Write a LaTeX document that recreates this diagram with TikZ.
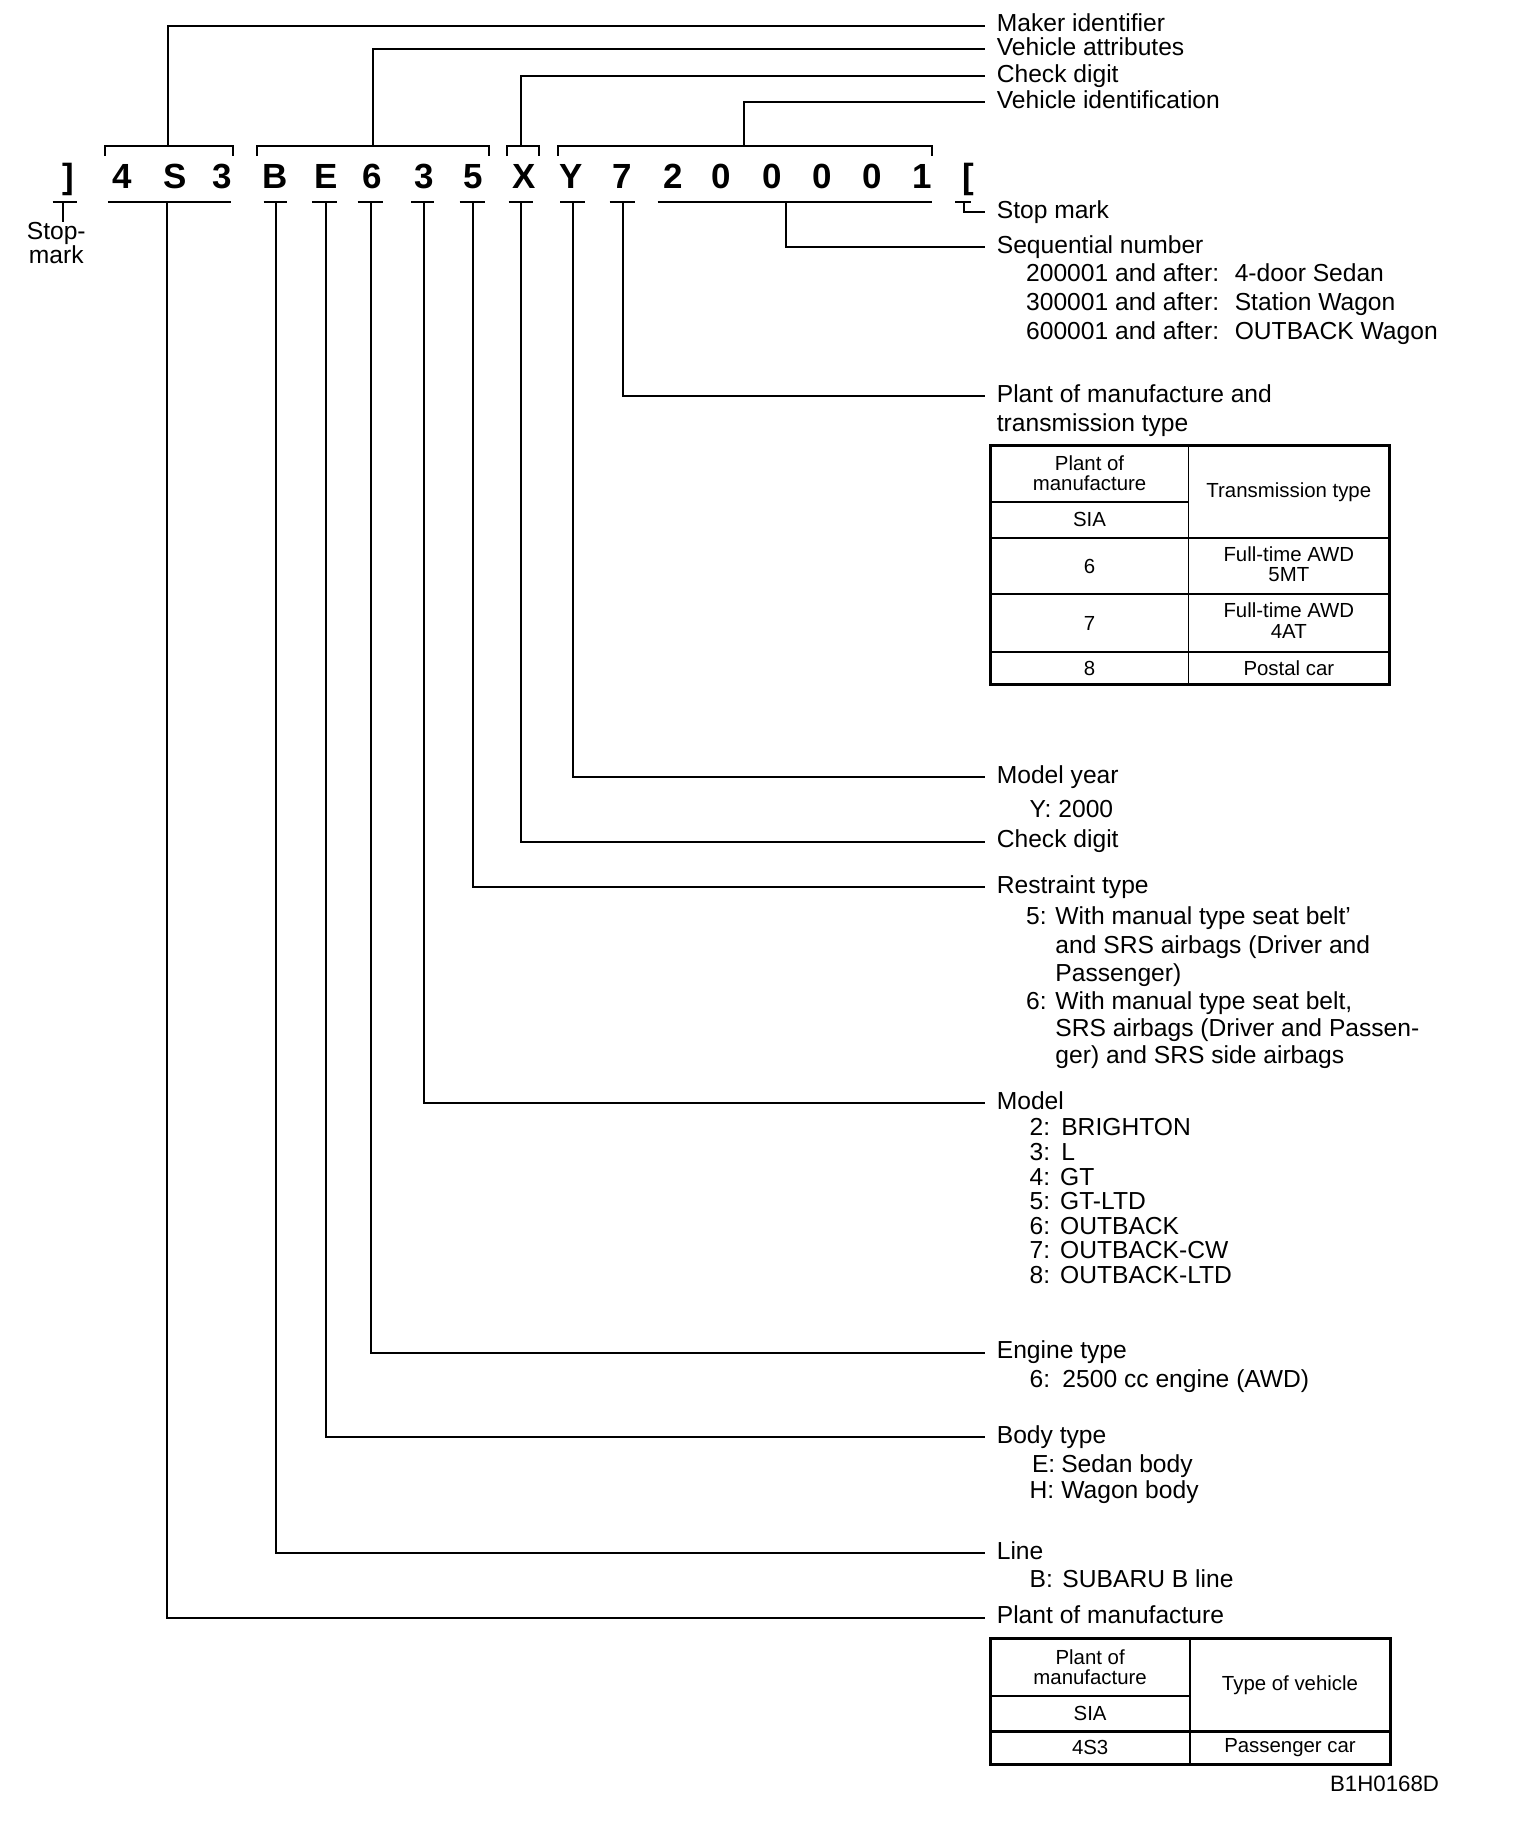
\documentclass[tikz,border=0pt]{standalone}
\usepackage{fontspec}
\setmainfont{Liberation Sans}
\newcommand\lblfont{\fontsize{10.5}{12.5}\selectfont}
\newcommand\vinfont{\bfseries\fontsize{14.9}{15}\selectfont}
\newcommand\tabfont{\fontsize{8.7}{8.6}\selectfont}
\newcommand\codefont{\fontsize{9.5}{11}\selectfont}
\begin{document}
\begin{tikzpicture}[x=0.5pt,y=-0.5pt,
  conn/.style={line width=0.75pt},
  brk/.style={line width=1.1pt},
  vin/.style={anchor=base, inner sep=0, font=\vinfont},
  head/.style={anchor=west, inner sep=0, font=\lblfont, text height=7.5pt, text depth=2.2pt},
  sub/.style={anchor=base west, inner sep=0, font=\lblfont},
  cell/.style={align=center, inner sep=0, font=\tabfont},
  tabout/.style={line width=1.3pt},
  tabin/.style={line width=0.7pt},
  tabmid/.style={line width=1pt}]
\useasboundingbox (0,0) rectangle (1297,1568);

% ---------- VIN characters ----------
\def\vb{160.4}
\node[vin] (c1)  at (58,\vb)    {]};
\node[vin] (c2)  at (104,\vb)   {4};
\node[vin] (c3)  at (149.3,\vb) {S};
\node[vin] (c4)  at (189.4,\vb) {3};
\node[vin] (c5)  at (234.6,\vb) {B};
\node[vin] (c6)  at (278,\vb)   {E};
\node[vin] (c7)  at (317.4,\vb) {6};
\node[vin] (c8)  at (361.7,\vb) {3};
\node[vin] (c9)  at (403.5,\vb) {5};
\node[vin] (c10) at (447,\vb)   {X};
\node[vin] (c11) at (487,\vb)   {Y};
\node[vin] (c12) at (530.6,\vb) {7};
\node[vin] (c13) at (574,\vb)   {2};
\node[vin] (c14) at (615,\vb)   {0};
\node[vin] (c15) at (658.6,\vb) {0};
\node[vin] (c16) at (701,\vb)   {0};
\node[vin] (c17) at (744,\vb)   {0};
\node[vin] (c18) at (786.6,\vb) {1};
\node[vin] (c19) at (825.8,\vb) {[};

% ---------- top brackets ----------
\draw[brk] (89.6,133) -- (89.6,124.6) -- (198.8,124.6) -- (198.8,133);
\draw[brk] (219.2,133) -- (219.2,124.6) -- (417.2,124.6) -- (417.2,133);
\draw[brk] (432.5,133) -- (432.5,124.6) -- (459.8,124.6) -- (459.8,133);
\draw[brk] (476,133) -- (476,124.6) -- (795,124.6) -- (795,133);
\coordinate (tMk) at (143.3,124.6);
\coordinate (tVA) at (318.2,124.6);
\coordinate (tCD) at (444.5,124.6);
\coordinate (tVI) at (634.7,124.6);

% ---------- bottom bars ----------
\def\bb{172.3}
\draw[brk] (45,\bb) -- (66,\bb);
\draw[brk] (92,\bb) -- (197,\bb);
\draw[brk] (225,\bb) -- (245,\bb);
\draw[brk] (266,\bb) -- (287.5,\bb);
\draw[brk] (305,\bb) -- (327,\bb);
\draw[brk] (351,\bb) -- (370,\bb);
\draw[brk] (392,\bb) -- (414,\bb);
\draw[brk] (434,\bb) -- (455,\bb);
\draw[brk] (478,\bb) -- (499,\bb);
\draw[brk] (520,\bb) -- (542,\bb);
\draw[brk] (561,\bb) -- (795,\bb);
\draw[conn] (815,\bb) -- (828,\bb);
\coordinate (sSL) at (54,\bb);
\coordinate (sPl) at (142.5,\bb);
\coordinate (sB) at (235.5,\bb);
\coordinate (sE) at (278,\bb);
\coordinate (s6) at (316.5,\bb);
\coordinate (s3) at (361.7,\bb);
\coordinate (s5) at (403.5,\bb);
\coordinate (sX) at (444.5,\bb);
\coordinate (sY) at (489,\bb);
\coordinate (s7) at (531.5,\bb);
\coordinate (sSq) at (670.6,\bb);
\coordinate (sSR) at (822.4,\bb);

% ---------- left stop mark ----------
\node[cell, font=\fontsize{10.5}{10.5}\selectfont, anchor=north] (lSL) at (48,189) {Stop-\\mark};
\draw[conn] (sSL) -- (sSL |- lSL.north);

% ---------- heading labels ----------
\def\lx{850}
\node[head] (lMk)  at (\lx,22)   {Maker identifier};
\node[head] (lVA)  at (\lx,42)   {Vehicle attributes};
\node[head] (lCD)  at (\lx,65)   {Check digit};
\node[head] (lVI)  at (\lx,87)   {Vehicle identification};
\node[head] (lSt)  at (\lx,181)  {Stop mark};
\node[head] (lSq)  at (\lx,211)  {Sequential number};
\node[head] (lPT)  at (\lx,338)  {Plant of manufacture and};
\node[head] (lMY)  at (\lx,663)  {Model year};
\node[head] (lCD2) at (\lx,718)  {Check digit};
\node[head] (lRT)  at (\lx,757)  {Restraint type};
\node[head] (lMo)  at (\lx,941)  {Model};
\node[head] (lEn)  at (\lx,1154) {Engine type};
\node[head] (lBo)  at (\lx,1226) {Body type};
\node[head] (lLi)  at (\lx,1325) {Line};
\node[head] (lPl)  at (\lx,1380) {Plant of manufacture};

% ---------- connectors ----------
\draw[conn] (tMk) |- ([xshift=-5pt]lMk.west);
\draw[conn] (tVA) |- ([xshift=-5pt]lVA.west);
\draw[conn] (tCD) |- ([xshift=-5pt]lCD.west);
\draw[conn] (tVI) |- ([xshift=-5pt]lVI.west);
\draw[conn] (sSR) |- ([xshift=-5pt]lSt.west);
\draw[conn] (sSq) |- ([xshift=-5pt]lSq.west);
\draw[conn] (s7)  |- ([xshift=-5pt]lPT.west);
\draw[conn] (sY)  |- ([xshift=-5pt]lMY.west);
\draw[conn] (sX)  |- ([xshift=-5pt]lCD2.west);
\draw[conn] (s5)  |- ([xshift=-5pt]lRT.west);
\draw[conn] (s3)  |- ([xshift=-5pt]lMo.west);
\draw[conn] (s6)  |- ([xshift=-5pt]lEn.west);
\draw[conn] (sE)  |- ([xshift=-5pt]lBo.west);
\draw[conn] (sB)  |- ([xshift=-5pt]lLi.west);
\draw[conn] (sPl) |- ([xshift=-5pt]lPl.west);

% ---------- sub texts ----------
\node[sub] (q1a) at (875,240) {200001 and after:};
\node[sub] (q1b) at (1053,240) {4-door Sedan};
\node[sub] (q2a) at (875,265) {300001 and after:};
\node[sub] (q2b) at (1053,265) {Station Wagon};
\node[sub] (q3a) at (875,290) {600001 and after:};
\node[sub] (q3b) at (1053,290) {OUTBACK Wagon};

\node[sub] (pt2) at (\lx,368) {transmission type};

\node[sub] (my1) at (878,697) {Y: 2000};

\node[sub] (r1n) at (875,789) {5:};
\node[sub] (r1a) at (900,789) {With manual type seat belt'};
\node[sub] (r1b) at (900,813) {and SRS airbags (Driver and};
\node[sub] (r1c) at (900,837) {Passenger)};
\node[sub] (r2n) at (875,861) {6:};
\node[sub] (r2a) at (900,861) {With manual type seat belt,};
\node[sub] (r2b) at (900,884) {SRS airbags (Driver and Passen-};
\node[sub] (r2c) at (900,907) {ger) and SRS side airbags};

\node[sub] (m2n) at (878,969)  {2:};  \node[sub] (m2) at (905,969)  {BRIGHTON};
\node[sub] (m3n) at (878,990)  {3:};  \node[sub] (m3) at (905,990)  {L};
\node[sub] (m4n) at (878,1011) {4:};  \node[sub] (m4) at (904,1011) {GT};
\node[sub] (m5n) at (878,1032) {5:};  \node[sub] (m5) at (904,1032) {GT-LTD};
\node[sub] (m6n) at (878,1053) {6:};  \node[sub] (m6) at (904,1053) {OUTBACK};
\node[sub] (m7n) at (878,1074) {7:};  \node[sub] (m7) at (904,1074) {OUTBACK-CW};
\node[sub] (m8n) at (878,1095) {8:};  \node[sub] (m8) at (904,1095) {OUTBACK-LTD};

\node[sub] (e1n) at (878,1184) {6:};
\node[sub] (e1)  at (906,1184) {2500 cc engine (AWD)};

\node[sub] (b1n) at (880,1256) {E:}; \node[sub] (b1) at (905,1256) {Sedan body};
\node[sub] (b2n) at (878,1278) {H:}; \node[sub] (b2) at (905,1278) {Wagon body};

\node[sub] (l1n) at (878,1354) {B:}; \node[sub] (l1) at (906,1354) {SUBARU B line};

% ---------- table 1 ----------
\draw[tabout] (845,380) rectangle (1185,584);
\draw[tabin] (1014,380) -- (1014,584);
\draw[tabmid] (845,428) -- (1014,428);
\draw[tabmid] (845,459) -- (1185,459);
\draw[tabin] (845,507) -- (1185,507);
\draw[tabin] (845,556) -- (1185,556);
\node[cell] (t1h1) at (929.5,404) {Plant of\\manufacture};
\node[cell] (t1h2) at (929.5,443.5) {SIA};
\node[cell] (t1h3) at (1099.5,419.5) {Transmission type};
\node[cell] (t1a1) at (929.5,483) {6};
\node[cell] (t1a2) at (1099.5,481) {Full-time AWD\\5MT};
\node[cell] (t1b1) at (929.5,531.5) {7};
\node[cell] (t1b2) at (1099.5,529.5) {Full-time AWD\\4AT};
\node[cell] (t1c1) at (929.5,570) {8};
\node[cell] (t1c2) at (1099.5,570) {Postal car};

% ---------- table 2 ----------
\draw[tabout] (845,1398) rectangle (1186,1505);
\draw[tabin] (1015,1398) -- (1015,1505);
\draw[tabmid] (845,1447) -- (1015,1447);
\draw[tabmid] (845,1477) -- (1186,1477);
\node[cell] (t2h1) at (930,1422) {Plant of\\manufacture};
\node[cell] (t2h2) at (930,1462) {SIA};
\node[cell] (t2h3) at (1100.5,1437.5) {Type of vehicle};
\node[cell] (t2a1) at (930,1491) {4S3};
\node[cell] (t2a2) at (1100.5,1491) {Passenger car};

% ---------- code ----------
\node[anchor=base east, inner sep=0, font=\codefont] (code) at (1228,1528) {B1H0168D};
\end{tikzpicture}
\end{document}
